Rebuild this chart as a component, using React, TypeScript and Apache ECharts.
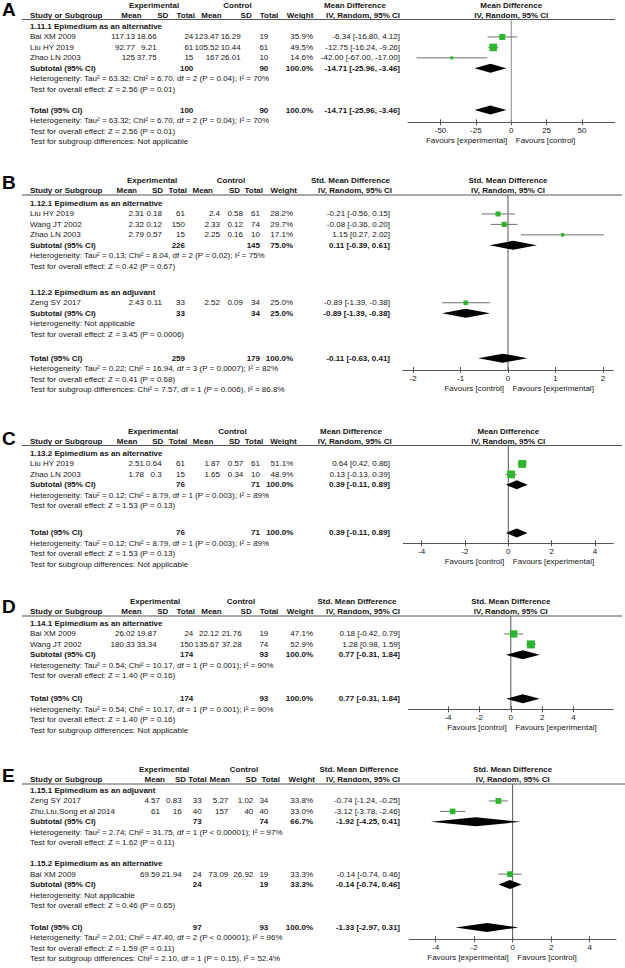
import React, { useEffect, useRef } from "react";
import * as echarts from "echarts";

const FONT = "'Liberation Sans', Arial, Helvetica, sans-serif";
const GREEN = "#2db52d";
const TEXT = "#161616";
const LINE = "#555555";
const CI_COLOR = "#707070";
const ROW_H = 10.45;
const FS = 8;

// study tuple: group, name, expMean, expSD, expN, ctlMean, ctlSD, ctlN, weight, est, lo, hi
// summary tuple: expN, ctlN, weight, est, lo, hi

// ---------- Panel A ----------
const aGroups = ["1.11.1 Epimedium as an alternative"];
const aStudies = [
  [0, "Bai XM 2009", 117.13, 18.66, 24, 123.47, 16.29, 19, 35.9, -6.34, -16.8, 4.12],
  [0, "Liu HY 2019", 92.77, 9.21, 61, 105.52, 10.44, 61, 49.5, -12.75, -16.24, -9.26],
  [0, "Zhao LN 2003", 125, 37.75, 15, 167, 26.01, 10, 14.6, -42.0, -67.0, -17.0],
];
const aSubtotals = [[100, 90, 100.0, -14.71, -25.96, -3.46]];
const aHetero = ["Heterogeneity: Tau² = 63.32; Chi² = 6.70, df = 2 (P = 0.04); I² = 70%"];
const aOverall = ["Test for overall effect: Z = 2.56 (P = 0.01)"];
const aTotal = [100, 90, 100.0, -14.71, -25.96, -3.46];
const aTotalNotes = [
  "Heterogeneity: Tau² = 63.32; Chi² = 6.70, df = 2 (P = 0.04); I² = 70%",
  "Test for overall effect: Z = 2.56 (P = 0.01)",
  "Test for subgroup differences: Not applicable",
];
const aTicks = [-50, -25, 0, 25, 50];
const aMeasure = "Mean Difference";
const aFavours = ["Favours [experimental]", "Favours [control]"];

// ---------- Panel B ----------
const bGroups = ["1.12.1 Epimedium as an alternative", "1.12.2 Epimedium as an adjuvant"];
const bStudies = [
  [0, "Liu HY 2019", 2.31, 0.18, 61, 2.4, 0.58, 61, 28.2, -0.21, -0.56, 0.15],
  [0, "Wang JT 2002", 2.32, 0.12, 150, 2.33, 0.12, 74, 29.7, -0.08, -0.36, 0.2],
  [0, "Zhao LN 2003", 2.79, 0.57, 15, 2.25, 0.16, 10, 17.1, 1.15, 0.27, 2.02],
  [1, "Zeng SY 2017", 2.43, 0.11, 33, 2.52, 0.09, 34, 25.0, -0.89, -1.39, -0.38],
];
const bSubtotals = [
  [226, 145, 75.0, 0.11, -0.39, 0.61],
  [33, 34, 25.0, -0.89, -1.39, -0.38],
];
const bHetero = [
  "Heterogeneity: Tau² = 0.13; Chi² = 8.04, df = 2 (P = 0.02); I² = 75%",
  "Heterogeneity: Not applicable",
];
const bOverall = [
  "Test for overall effect: Z = 0.42 (P = 0.67)",
  "Test for overall effect: Z = 3.45 (P = 0.0006)",
];
const bTotal = [259, 179, 100.0, -0.11, -0.63, 0.41];
const bTotalNotes = [
  "Heterogeneity: Tau² = 0.22; Chi² = 16.94, df = 3 (P = 0.0007); I² = 82%",
  "Test for overall effect: Z = 0.41 (P = 0.68)",
  "Test for subgroup differences: Chi² = 7.57, df = 1 (P = 0.006), I² = 86.8%",
];
const bTicks = [-2, -1, 0, 1, 2];
const bMeasure = "Std. Mean Difference";
const bFavours = ["Favours [control]", "Favours [experimental]"];

// ---------- Panel C ----------
const cGroups = ["1.13.2 Epimedium as an alternative"];
const cStudies = [
  [0, "Liu HY 2019", 2.51, 0.64, 61, 1.87, 0.57, 61, 51.1, 0.64, 0.42, 0.86],
  [0, "Zhao LN 2003", 1.78, 0.3, 15, 1.65, 0.34, 10, 48.9, 0.13, -0.13, 0.39],
];
const cSubtotals = [[76, 71, 100.0, 0.39, -0.11, 0.89]];
const cHetero = ["Heterogeneity: Tau² = 0.12; Chi² = 8.79, df = 1 (P = 0.003); I² = 89%"];
const cOverall = ["Test for overall effect: Z = 1.53 (P = 0.13)"];
const cTotal = [76, 71, 100.0, 0.39, -0.11, 0.89];
const cTotalNotes = [
  "Heterogeneity: Tau² = 0.12; Chi² = 8.79, df = 1 (P = 0.003); I² = 89%",
  "Test for overall effect: Z = 1.53 (P = 0.13)",
  "Test for subgroup differences: Not applicable",
];
const cTicks = [-4, -2, 0, 2, 4];
const cMeasure = "Mean Difference";
const cFavours = ["Favours [control]", "Favours [experimental]"];

// ---------- Panel D ----------
const dGroups = ["1.14.1 Epimedium as an alternative"];
const dStudies = [
  [0, "Bai XM 2009", 26.02, 19.87, 24, 22.12, 21.76, 19, 47.1, 0.18, -0.42, 0.79],
  [0, "Wang JT 2002", 180.33, 33.34, 150, 135.67, 37.28, 74, 52.9, 1.28, 0.98, 1.59],
];
const dSubtotals = [[174, 93, 100.0, 0.77, -0.31, 1.84]];
const dHetero = ["Heterogeneity: Tau² = 0.54; Chi² = 10.17, df = 1 (P = 0.001); I² = 90%"];
const dOverall = ["Test for overall effect: Z = 1.40 (P = 0.16)"];
const dTotal = [174, 93, 100.0, 0.77, -0.31, 1.84];
const dTotalNotes = [
  "Heterogeneity: Tau² = 0.54; Chi² = 10.17, df = 1 (P = 0.001); I² = 90%",
  "Test for overall effect: Z = 1.40 (P = 0.16)",
  "Test for subgroup differences: Not applicable",
];
const dTicks = [-4, -2, 0, 2, 4];
const dMeasure = "Std. Mean Difference";
const dFavours = ["Favours [control]", "Favours [experimental]"];

// ---------- Panel E ----------
const eGroups = ["1.15.1 Epimedium as an adjuvant", "1.15.2 Epimedium as an alternative"];
const eStudies = [
  [0, "Zeng SY 2017", 4.57, 0.83, 33, 5.27, 1.02, 34, 33.8, -0.74, -1.24, -0.25],
  [0, "Zhu,Liu,Song et al 2014", 61, 16, 40, 157, 40, 40, 33.0, -3.12, -3.78, -2.46],
  [1, "Bai XM 2009", 69.59, 21.94, 24, 73.09, 26.92, 19, 33.3, -0.14, -0.74, 0.46],
];
const eSubtotals = [
  [73, 74, 66.7, -1.92, -4.25, 0.41],
  [24, 19, 33.3, -0.14, -0.74, 0.46],
];
const eHetero = [
  "Heterogeneity: Tau² = 2.74; Chi² = 31.75, df = 1 (P < 0.00001); I² = 97%",
  "Heterogeneity: Not applicable",
];
const eOverall = [
  "Test for overall effect: Z = 1.62 (P = 0.11)",
  "Test for overall effect: Z = 0.46 (P = 0.65)",
];
const eTotal = [97, 93, 100.0, -1.33, -2.97, 0.31];
const eTotalNotes = [
  "Heterogeneity: Tau² = 2.01; Chi² = 47.40, df = 2 (P < 0.00001); I² = 96%",
  "Test for overall effect: Z = 1.59 (P = 0.11)",
  "Test for subgroup differences: Chi² = 2.10, df = 1 (P = 0.15), I² = 52.4%",
];
const eTicks = [-4, -2, 0, 2, 4];
const eMeasure = "Std. Mean Difference";
const eFavours = ["Favours [experimental]", "Favours [control]"];

const PANELS: any[] = [
  { letter: "A", groups: aGroups, studies: aStudies, subtotals: aSubtotals, hetero: aHetero, overall: aOverall, total: aTotal, totalNotes: aTotalNotes, ticks: aTicks, measure: aMeasure, favours: aFavours },
  { letter: "B", groups: bGroups, studies: bStudies, subtotals: bSubtotals, hetero: bHetero, overall: bOverall, total: bTotal, totalNotes: bTotalNotes, ticks: bTicks, measure: bMeasure, favours: bFavours },
  { letter: "C", groups: cGroups, studies: cStudies, subtotals: cSubtotals, hetero: cHetero, overall: cOverall, total: cTotal, totalNotes: cTotalNotes, ticks: cTicks, measure: cMeasure, favours: cFavours },
  { letter: "D", groups: dGroups, studies: dStudies, subtotals: dSubtotals, hetero: dHetero, overall: dOverall, total: dTotal, totalNotes: dTotalNotes, ticks: dTicks, measure: dMeasure, favours: dFavours },
  { letter: "E", groups: eGroups, studies: eStudies, subtotals: eSubtotals, hetero: eHetero, overall: eOverall, total: eTotal, totalNotes: eTotalNotes, ticks: eTicks, measure: eMeasure, favours: eFavours },
];

// ---------- Layout (positions only) ----------
const LAYOUT: any[] = [
  { letterY: 9, lineY: 19.5, row0: 26.5, gapGroup: 2, gapTotal: 2, axisY: 122.3, plotL: 408, plotR: 614.5, xMin: -73, xMax: 73, lineR: 615,
    h1: [154, 237.5, 355], hdrX: [141.7, 168.3, 195, 221.7, 251.7, 278.3, 313.3, 400], valX: [135, 156.7, 193.3, 219, 240.7, 268.3, 313, 400] },
  { letterY: 182.5, lineY: 195, row0: 203.5, gapGroup: 2.5, gapTotal: 2.3, axisY: 370, plotL: 402.7, plotR: 613.3, xMin: -2.22, xMax: 2.22, lineR: 622,
    h1: [152, 231, 350.5], hdrX: [137, 163, 187, 213, 240, 263, 297, 392], valX: [144, 162, 185, 220, 243, 260, 293, 390] },
  { letterY: 438, lineY: 445.5, row0: 453.5, gapGroup: 2, gapTotal: 2.6, axisY: 543.3, plotL: 403.3, plotR: 613.3, xMin: -4.85, xMax: 4.85, lineR: 622,
    h1: [153, 232.5, 351], hdrX: [137.3, 163.3, 187.3, 213.3, 240, 263.3, 296.7, 391.7], valX: [144, 161.7, 185, 220, 243.3, 260, 293.3, 390] },
  { letterY: 606.7, lineY: 616, row0: 623.5, gapGroup: 2, gapTotal: 2.2, axisY: 709.3, plotL: 408.3, plotR: 613.3, xMin: -6.53, xMax: 6.53, lineR: 622,
    h1: [155, 241, 357], hdrX: [141.7, 168.3, 195, 221.7, 251.7, 278.3, 313.3, 400], valX: [135, 156.7, 193.3, 219, 241.7, 268.3, 313, 400] },
  { letterY: 775, lineY: 784, row0: 790.5, gapGroup: 2, gapTotal: 2.1, axisY: 939.3, plotL: 409.3, plotR: 616, xMin: -5.37, xMax: 5.37, lineR: 625,
    h1: [164, 244, 359], hdrX: [165, 186, 206.7, 230, 256.7, 280, 315, 400], valX: [160, 181.7, 201.7, 228.3, 253.3, 268.3, 313, 400] },
];

function buildRows(d: any, L: any) {
  const rows: any[] = [];
  let r = 0;
  let lastTest = 0;
  d.groups.forEach((g: string, gi: number) => {
    if (gi > 0) r = lastTest + L.gapGroup;
    rows.push({ kind: "group", r, text: g });
    d.studies.filter((s: any[]) => s[0] === gi).forEach((s: any[]) => {
      r += 1;
      rows.push({ kind: "study", r, s });
    });
    r += 1;
    rows.push({ kind: "summary", r, s: d.subtotals[gi], label: "Subtotal (95% CI)" });
    r += 1;
    rows.push({ kind: "note", r, text: d.hetero[gi] });
    r += 1;
    rows.push({ kind: "note", r, text: d.overall[gi] });
    lastTest = r;
  });
  r = lastTest + L.gapTotal;
  rows.push({ kind: "summary", r, s: d.total, label: "Total (95% CI)" });
  d.totalNotes.forEach((t: string) => {
    r += 1;
    rows.push({ kind: "note", r, text: t });
  });
  return rows;
}

function txt(text: string, x: number, y: number, o: any = {}) {
  const align = o.align || "left";
  return {
    type: "text",
    x,
    y,
    silent: true,
    z: 10,
    style: {
      text,
      fill: o.color || TEXT,
      fontSize: o.size || FS,
      fontFamily: FONT,
      fontWeight: o.bold ? "bold" : "normal",
      align,
      textAlign: align,
      verticalAlign: "middle",
      textVerticalAlign: "middle",
    },
  };
}

const fmtCI = (est: number, lo: number, hi: number) => `${est.toFixed(2)} [${lo.toFixed(2)}, ${hi.toFixed(2)}]`;

function buildOption() {
  const grid: any[] = [];
  const xAxis: any[] = [];
  const yAxis: any[] = [];
  const series: any[] = [];
  const graphic: any[] = [];

  PANELS.forEach((d, i) => {
    const L = LAYOUT[i];
    const rows = buildRows(d, L);
    const py = (r: number) => L.row0 + r * ROW_H;
    const yMin = (L.lineY - L.row0) / ROW_H;
    const yMax = (L.axisY - L.row0) / ROW_H;
    const x0 = L.plotL + ((0 - L.xMin) / (L.xMax - L.xMin)) * (L.plotR - L.plotL);

    grid.push({ left: L.plotL, top: L.lineY, width: L.plotR - L.plotL, height: L.axisY - L.lineY, containLabel: false, outerBoundsMode: "none" });
    xAxis.push({
      gridIndex: i, type: "value", min: L.xMin, max: L.xMax, position: "bottom",
      axisLine: { show: true, onZero: false, lineStyle: { color: LINE, width: 1 } },
      axisTick: { show: true, length: 3, customValues: d.ticks, lineStyle: { color: LINE, width: 1 } },
      axisLabel: { show: true, customValues: d.ticks, fontSize: FS, fontFamily: FONT, color: TEXT, margin: 4 },
      splitLine: { show: false },
    });
    xAxis.push({
      gridIndex: i, type: "value", min: L.xMin, max: L.xMax, position: "bottom",
      axisLine: { show: false, onZero: false },
      axisTick: { show: true, inside: true, length: 3, customValues: d.ticks, lineStyle: { color: LINE, width: 1 } },
      axisLabel: { show: false },
      splitLine: { show: false },
    });
    yAxis.push({ gridIndex: i, type: "value", inverse: true, min: yMin, max: yMax, show: false });

    const xi = i * 2;
    // zero line
    series.push({
      type: "custom", xAxisIndex: xi, yAxisIndex: i, z: 1, silent: true,
      data: [[0, yMin, yMax]],
      encode: { x: 0, y: 1 },
      renderItem: (_p: any, api: any) => {
        const a = api.coord([api.value(0), api.value(1)]);
        const b = api.coord([api.value(0), api.value(2)]);
        return { type: "line", shape: { x1: a[0], y1: a[1], x2: b[0], y2: b[1] }, style: { stroke: i === 0 ? "#8a8a8a" : LINE, lineWidth: 1 } };
      },
    });
    // studies
    const studyData = rows.filter((r) => r.kind === "study").map((r) => [r.s[9], r.r, r.s[10], r.s[11], r.s[8]]);
    series.push({
      type: "custom", xAxisIndex: xi, yAxisIndex: i, z: 3, silent: true,
      data: studyData,
      encode: { x: 0, y: 1 },
      renderItem: (_p: any, api: any) => {
        const row = api.value(1);
        const pE = api.coord([api.value(0), row]);
        const pL = api.coord([api.value(2), row]);
        const pH = api.coord([api.value(3), row]);
        const s = 0.41 * Math.pow(api.value(4), 0.75);
        return {
          type: "group",
          children: [
            { type: "line", shape: { x1: pL[0], y1: pL[1], x2: pH[0], y2: pH[1] }, style: { stroke: CI_COLOR, lineWidth: 1 } },
            { type: "rect", shape: { x: pE[0] - s / 2, y: pE[1] - s / 2, width: s, height: s }, style: { fill: GREEN } },
          ],
        };
      },
    });
    // diamonds
    const diaData = rows.filter((r) => r.kind === "summary").map((r) => [r.s[3], r.r, r.s[4], r.s[5]]);
    series.push({
      type: "custom", xAxisIndex: xi, yAxisIndex: i, z: 2, silent: true,
      data: diaData,
      encode: { x: 0, y: 1 },
      renderItem: (_p: any, api: any) => {
        const row = api.value(1);
        const pE = api.coord([api.value(0), row]);
        const pL = api.coord([api.value(2), row]);
        const pH = api.coord([api.value(3), row]);
        const h = 4.5;
        return {
          type: "polygon",
          shape: { points: [[pL[0], pL[1]], [pE[0], pE[1] - h], [pH[0], pH[1]], [pE[0], pE[1] + h]] },
          style: { fill: "#000" },
        };
      },
    });

    // ---- texts ----
    graphic.push(txt(d.letter, 2, L.letterY, { size: 19, bold: true, color: "#000" }));
    const h1y = L.lineY - 14.5;
    const h2y = L.lineY - 4.5;
    graphic.push(txt("Experimental", L.h1[0], h1y, { bold: true, align: "center" }));
    graphic.push(txt("Control", L.h1[1], h1y, { bold: true, align: "center" }));
    graphic.push(txt(d.measure, L.h1[2], h1y, { bold: true, align: "center" }));
    graphic.push(txt(d.measure, x0, h1y, { bold: true, align: "center" }));
    graphic.push(txt("Study or Subgroup", 30, h2y, { bold: true }));
    ["Mean", "SD", "Total", "Mean", "SD", "Total", "Weight", "IV, Random, 95% CI"].forEach((h, k) => {
      graphic.push(txt(h, L.hdrX[k], h2y, { bold: true, align: "right" }));
    });
    graphic.push(txt("IV, Random, 95% CI", x0, h2y, { bold: true, align: "center" }));
    graphic.push({
      type: "line", silent: true, z: 10,
      shape: { x1: 22, y1: L.lineY, x2: L.lineR, y2: L.lineY },
      style: { stroke: LINE, lineWidth: 1 },
    });

    rows.forEach((row) => {
      const y = py(row.r);
      if (row.kind === "group") {
        graphic.push(txt(row.text, 30, y, { bold: true }));
      } else if (row.kind === "note") {
        graphic.push(txt(row.text, 30, y));
      } else if (row.kind === "study") {
        const s = row.s;
        graphic.push(txt(s[1], 30, y));
        [s[2], s[3], s[4], s[5], s[6], s[7]].forEach((v: number, k: number) => {
          graphic.push(txt(String(v), L.valX[k], y, { align: "right" }));
        });
        graphic.push(txt(s[8].toFixed(1) + "%", L.valX[6], y, { align: "right" }));
        graphic.push(txt(fmtCI(s[9], s[10], s[11]), L.valX[7], y, { align: "right" }));
      } else if (row.kind === "summary") {
        const s = row.s;
        graphic.push(txt(row.label, 30, y, { bold: true }));
        graphic.push(txt(String(s[0]), L.valX[2], y, { bold: true, align: "right" }));
        graphic.push(txt(String(s[1]), L.valX[5], y, { bold: true, align: "right" }));
        graphic.push(txt(s[2].toFixed(1) + "%", L.valX[6], y, { bold: true, align: "right" }));
        graphic.push(txt(fmtCI(s[3], s[4], s[5]), L.valX[7], y, { bold: true, align: "right" }));
      }
    });

    const fy = L.axisY + 18.5;
    graphic.push(txt(d.favours[0], x0 - 4, fy, { align: "right" }));
    graphic.push(txt(d.favours[1], x0 + 4.5, fy, { align: "left" }));
  });

  return {
    animation: false,
    backgroundColor: "#ffffff",
    grid,
    xAxis,
    yAxis,
    series,
    graphic: { elements: graphic },
  };
}

export default function App() {
  const ref = useRef<HTMLDivElement>(null);
  useEffect(() => {
    if (!ref.current) return;
    const chart = echarts.init(ref.current, undefined, { renderer: "svg", width: 625, height: 968 });
    chart.setOption(buildOption() as any);
    return () => chart.dispose();
  }, []);
  return (
    <div
      ref={ref}
      style={{ position: "fixed", left: 0, top: 0, width: 625, height: 968, background: "#fff" }}
    />
  );
}
